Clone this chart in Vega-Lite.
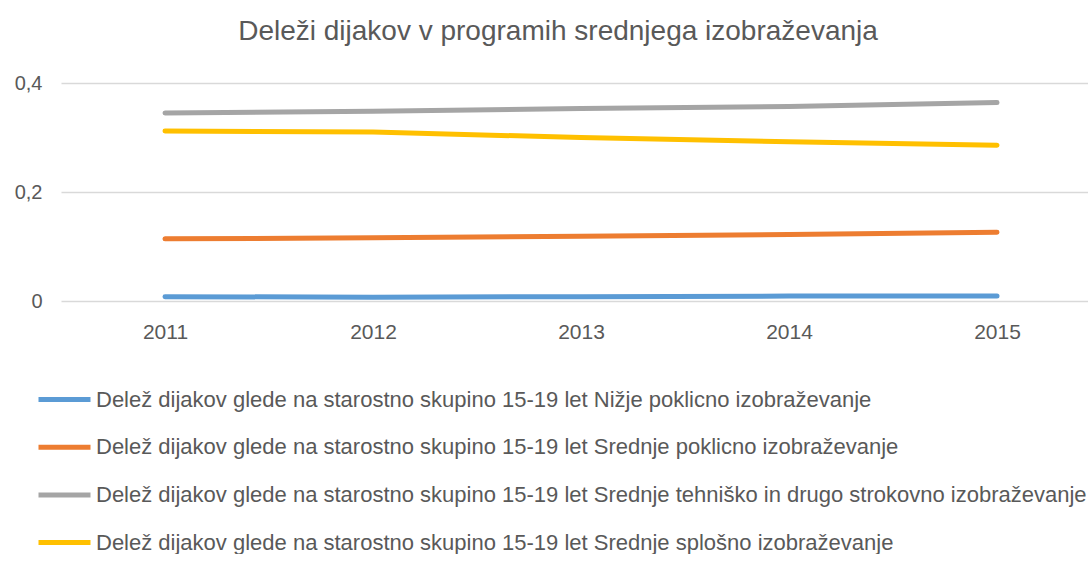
{
  "$schema": "https://vega.github.io/schema/vega-lite/v6.json",
  "width": 1040,
  "height": 218,
  "padding": {"left": 0, "top": 18, "right": 0, "bottom": 0},
  "background": "white",
  "title": {
    "text": "Deleži dijakov v programih srednjega izobraževanja",
    "font": "Liberation Sans",
    "fontSize": 28,
    "fontWeight": "normal",
    "color": "#595959",
    "anchor": "middle",
    "dx": -23,
    "offset": 27
  },
  "data": {
    "values": [
      {"leto": "2011", "serija": "Delež dijakov glede na starostno skupino 15-19 let Nižje poklicno izobraževanje", "delez": 0.008},
      {"leto": "2012", "serija": "Delež dijakov glede na starostno skupino 15-19 let Nižje poklicno izobraževanje", "delez": 0.007},
      {"leto": "2013", "serija": "Delež dijakov glede na starostno skupino 15-19 let Nižje poklicno izobraževanje", "delez": 0.008},
      {"leto": "2014", "serija": "Delež dijakov glede na starostno skupino 15-19 let Nižje poklicno izobraževanje", "delez": 0.009},
      {"leto": "2015", "serija": "Delež dijakov glede na starostno skupino 15-19 let Nižje poklicno izobraževanje", "delez": 0.009},
      {"leto": "2011", "serija": "Delež dijakov glede na starostno skupino 15-19 let Srednje poklicno izobraževanje", "delez": 0.114},
      {"leto": "2012", "serija": "Delež dijakov glede na starostno skupino 15-19 let Srednje poklicno izobraževanje", "delez": 0.116},
      {"leto": "2013", "serija": "Delež dijakov glede na starostno skupino 15-19 let Srednje poklicno izobraževanje", "delez": 0.119},
      {"leto": "2014", "serija": "Delež dijakov glede na starostno skupino 15-19 let Srednje poklicno izobraževanje", "delez": 0.122},
      {"leto": "2015", "serija": "Delež dijakov glede na starostno skupino 15-19 let Srednje poklicno izobraževanje", "delez": 0.126},
      {"leto": "2011", "serija": "Delež dijakov glede na starostno skupino 15-19 let Srednje tehniško in drugo strokovno izobraževanje", "delez": 0.345},
      {"leto": "2012", "serija": "Delež dijakov glede na starostno skupino 15-19 let Srednje tehniško in drugo strokovno izobraževanje", "delez": 0.348},
      {"leto": "2013", "serija": "Delež dijakov glede na starostno skupino 15-19 let Srednje tehniško in drugo strokovno izobraževanje", "delez": 0.353},
      {"leto": "2014", "serija": "Delež dijakov glede na starostno skupino 15-19 let Srednje tehniško in drugo strokovno izobraževanje", "delez": 0.357},
      {"leto": "2015", "serija": "Delež dijakov glede na starostno skupino 15-19 let Srednje tehniško in drugo strokovno izobraževanje", "delez": 0.364},
      {"leto": "2011", "serija": "Delež dijakov glede na starostno skupino 15-19 let Srednje splošno izobraževanje", "delez": 0.312},
      {"leto": "2012", "serija": "Delež dijakov glede na starostno skupino 15-19 let Srednje splošno izobraževanje", "delez": 0.310},
      {"leto": "2013", "serija": "Delež dijakov glede na starostno skupino 15-19 let Srednje splošno izobraževanje", "delez": 0.300},
      {"leto": "2014", "serija": "Delež dijakov glede na starostno skupino 15-19 let Srednje splošno izobraževanje", "delez": 0.292},
      {"leto": "2015", "serija": "Delež dijakov glede na starostno skupino 15-19 let Srednje splošno izobraževanje", "delez": 0.286}
    ]
  },
  "mark": {"type": "line", "strokeWidth": 5, "strokeCap": "round", "strokeJoin": "round"},
  "encoding": {
    "x": {
      "field": "leto",
      "type": "ordinal",
      "scale": {"type": "point", "padding": 0.5},
      "axis": {
        "title": null,
        "labelAngle": 0,
        "domain": false,
        "ticks": false,
        "grid": false,
        "labelFont": "Liberation Sans",
        "labelFontSize": 21,
        "labelColor": "#595959",
        "labelPadding": 20
      }
    },
    "y": {
      "field": "delez",
      "type": "quantitative",
      "scale": {"domain": [0, 0.4], "nice": false},
      "axis": {
        "title": null,
        "values": [0, 0.2, 0.4],
        "labelExpr": "datum.value == 0 ? '0' : replace(format(datum.value, '.1f'), '.', ',')",
        "domain": false,
        "ticks": false,
        "gridColor": "#D9D9D9",
        "gridWidth": 1.5,
        "labelFont": "Liberation Sans",
        "labelFontSize": 20,
        "labelColor": "#595959",
        "labelPadding": 19,
        "minExtent": 61,
        "maxExtent": 61
      }
    },
    "color": {
      "field": "serija",
      "type": "nominal",
      "sort": [
        "Delež dijakov glede na starostno skupino 15-19 let Nižje poklicno izobraževanje",
        "Delež dijakov glede na starostno skupino 15-19 let Srednje poklicno izobraževanje",
        "Delež dijakov glede na starostno skupino 15-19 let Srednje tehniško in drugo strokovno izobraževanje",
        "Delež dijakov glede na starostno skupino 15-19 let Srednje splošno izobraževanje"
      ],
      "scale": {"range": ["#5B9BD5", "#ED7D31", "#A5A5A5", "#FFC000"]},
      "legend": {
        "title": null,
        "orient": "none",
        "legendX": -19,
        "legendY": 294,
        "direction": "vertical",
        "symbolType": "M-1.3,0H1.3",
        "symbolSize": 1600,
        "symbolStrokeWidth": 5,
        "labelFont": "Liberation Sans",
        "labelFontSize": 22,
        "labelColor": "#595959",
        "labelOffset": 9,
        "labelLimit": 1200,
        "rowPadding": 13.7
      }
    }
  },
  "config": {"view": {"stroke": null}}
}
